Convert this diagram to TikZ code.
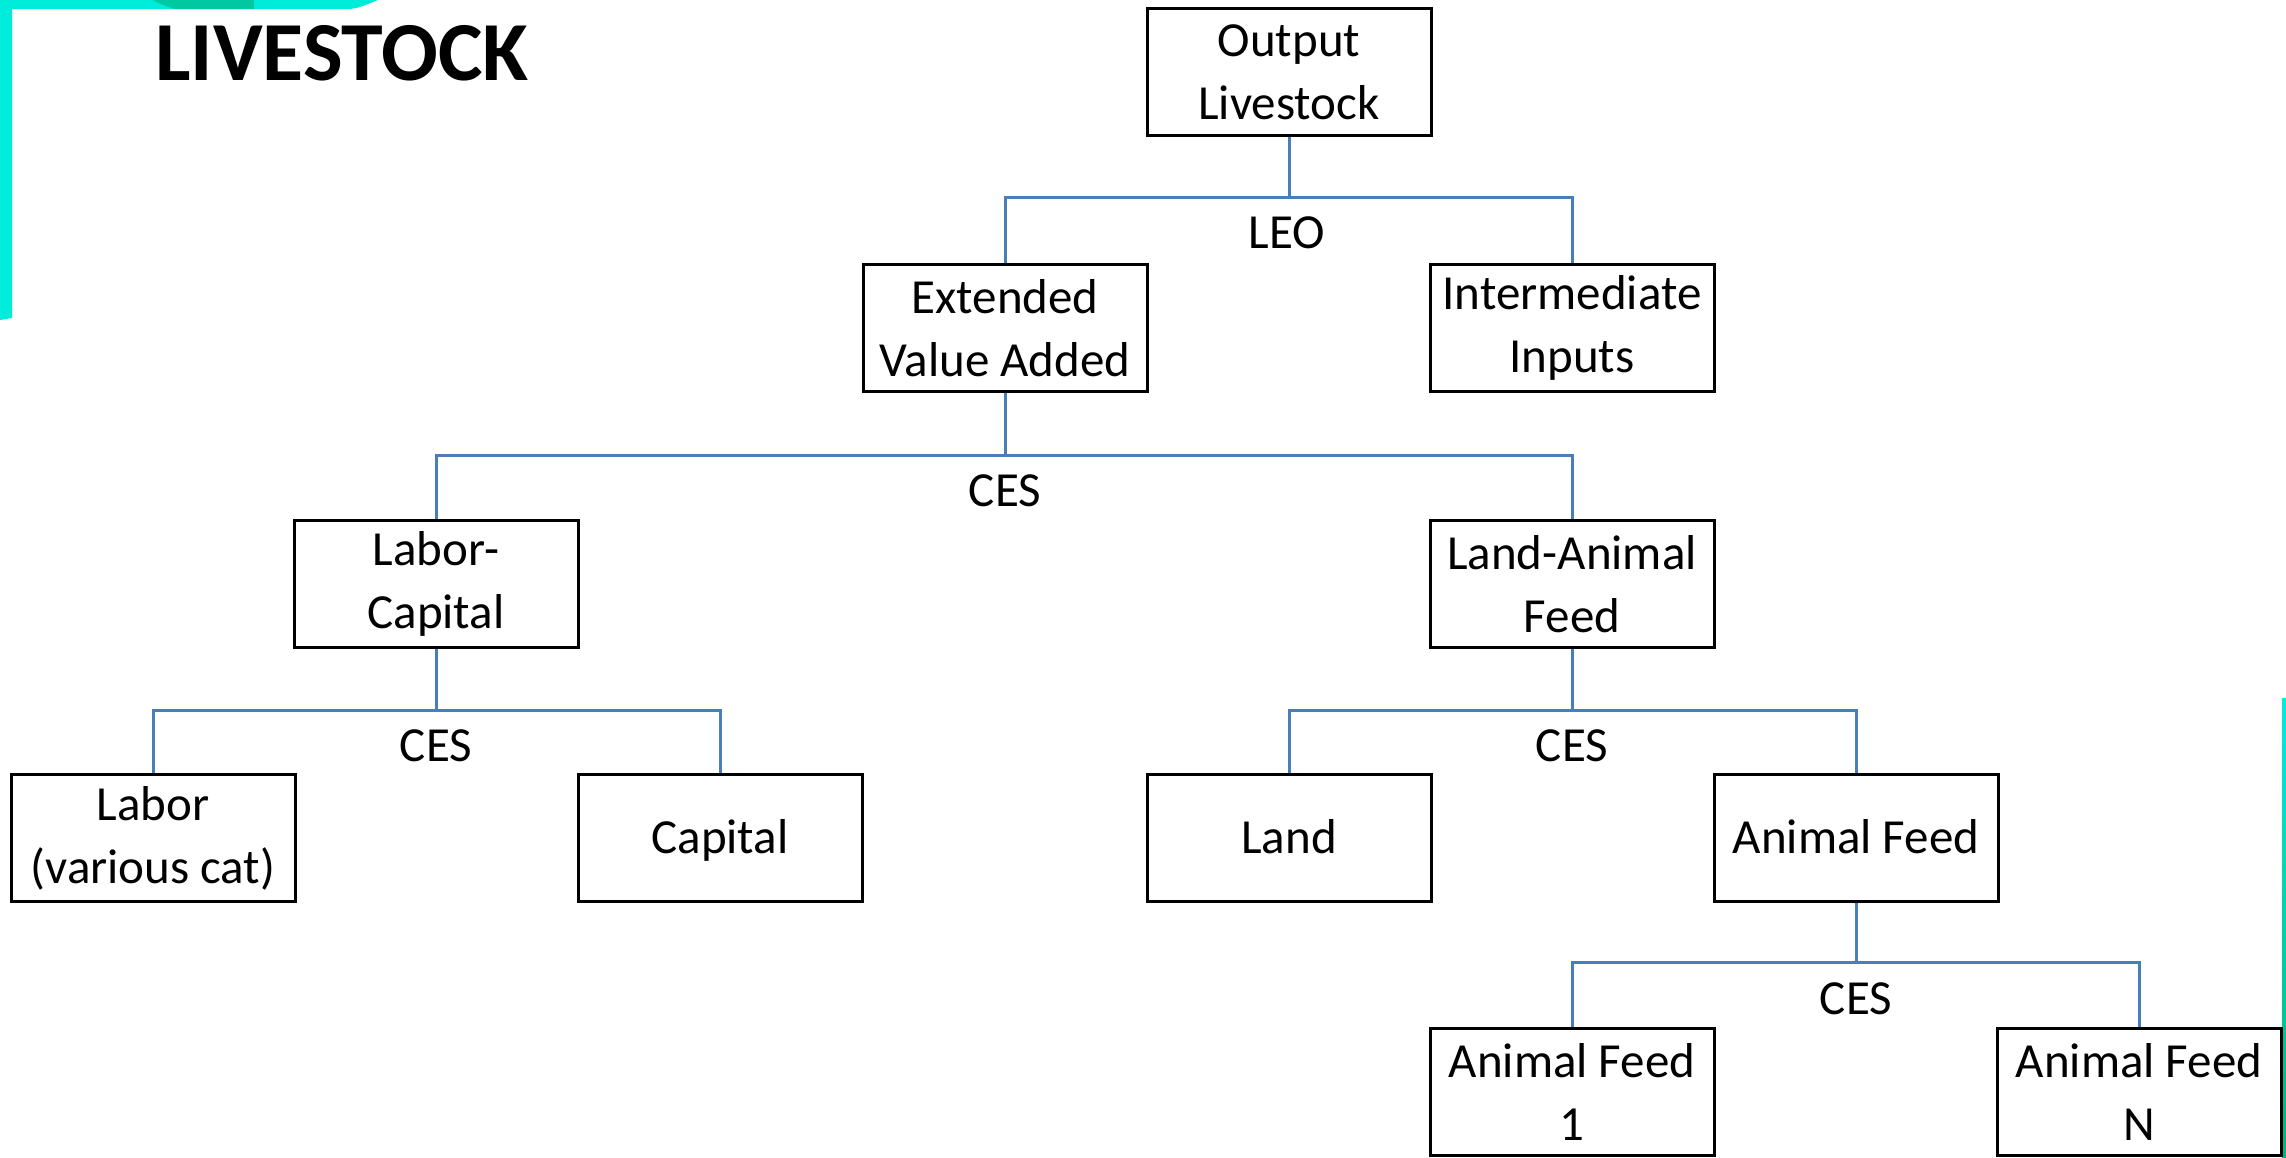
\documentclass[tikz,border=0pt]{standalone}
\usepackage{fontspec}
\setmainfont{Carlito}
\definecolor{connblue}{RGB}{74,126,187}
\definecolor{decocyan}{RGB}{0,236,218}
\definecolor{decoteal}{RGB}{0,200,160}
\definecolor{decogreen}{RGB}{0,180,130}
\tikzset{
  box/.style={draw=black, line width=3pt, minimum width=284pt, minimum height=127pt,
    inner sep=0pt, align=center, font=\fontsize{49}{63}\selectfont},
  conn/.style={draw=connblue, line width=3pt},
  fn/.style={font=\fontsize{49}{63}\selectfont, inner sep=0pt},
}
\begin{document}
\begin{tikzpicture}[x=1pt,y=-1pt]
\useasboundingbox (0,0) rectangle (2286,1157);
% decorations
\fill[decocyan] (0,0) -- (12,0) -- (12,318) -- (0,320) -- cycle;
\fill[decocyan] (0,0) -- (378,0) .. controls (368,4) and (360,8) .. (350,9) -- (0,9) -- cycle;
\fill[decoteal] (153,0) -- (254,0) -- (254,9) -- (175,9) .. controls (165,6) and (158,3) .. (153,0) -- cycle;
\shade[top color=decocyan, bottom color=decogreen] (2282,698) rectangle (2286,1157);
% title
\node[font=\fontsize{84}{90}\selectfont\bfseries, anchor=base west, inner sep=0pt] (title) at (155,80) {LIVESTOCK};
% boxes
\node[box] (out) at (1289,72) {Output\\Livestock};
\node[box] (eva) at (1005,328) {Extended\\Value Added};
\node[box] (ii)  at (1572,328) {Intermediate\\Inputs};
\node[box] (lc)  at (436,584) {Labor-\\Capital};
\node[box] (laf) at (1572,584) {Land-Animal\\Feed};
\node[box] (lab) at (153,838) {Labor\\(various cat)};
\node[box, text depth=4pt] (cap) at (720,838) {Capital};
\node[box, text depth=4pt] (land) at (1289,838) {Land};
\node[box, text depth=4pt] (af)  at (1856,838) {Animal Feed};
\node[box] (af1) at (1572,1092) {Animal Feed\\1};
\node[box] (afn) at (2139,1092) {Animal Feed\\N};
% bar coordinates
\coordinate (b1) at (out.south |- 0,197);
\coordinate (b2) at (eva.south |- 0,455);
\coordinate (b3) at (lc.south |- 0,710);
\coordinate (b4) at (laf.south |- 0,710);
\coordinate (b5) at (af.south |- 0,962);
% connectors
\draw[conn] (out.south) -- (b1);
\draw[conn] (eva.north) |- (b1) -| (ii.north);
\draw[conn] (eva.south) -- (b2);
\draw[conn] (lc.north) |- (b2) -| (laf.north);
\draw[conn] (lc.south) -- (b3);
\draw[conn] (lab.north) |- (b3) -| (cap.north);
\draw[conn] (laf.south) -- (b4);
\draw[conn] (land.north) |- (b4) -| (af.north);
\draw[conn] (af.south) -- (b5);
\draw[conn] (af1.north) |- (b5) -| (afn.north);
% labels
\node[fn] (leo) at (1287,233) {LEO};
\node[fn] (ces1) at (1005,491) {CES};
\node[fn] (ces2) at (436,746) {CES};
\node[fn] (ces3) at (1572,746) {CES};
\node[fn] (ces4) at (1856,999) {CES};
\end{tikzpicture}
\end{document}
